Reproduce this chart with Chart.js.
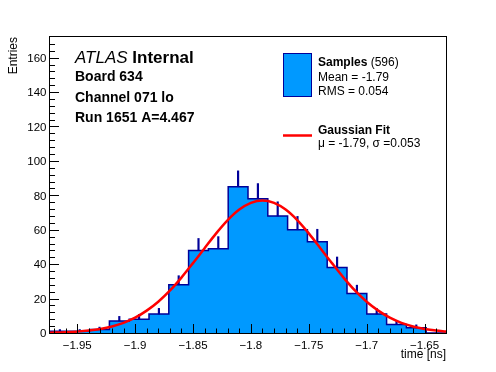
<!DOCTYPE html>
<html>
<head>
<meta charset="utf-8">
<script src="https://cdn.jsdelivr.net/npm/chart.js@4.4.1/dist/chart.umd.min.js"></script>
<style>
  html, body { margin: 0; padding: 0; background: #fff; }
</style>
</head>
<body>
<canvas id="chart-temps" width="496" height="372"></canvas>
<script>
// --- Données ---
const binEdges = [-1.9735, -1.9564, -1.9393, -1.9222, -1.9051, -1.8880, -1.8709, -1.8538, -1.8367, -1.8196,
  -1.8025, -1.7854, -1.7683, -1.7512, -1.7341, -1.7170, -1.6999, -1.6828, -1.6657, -1.6486, -1.6315];
const binCounts = [1, 1, 2, 7, 8, 11, 28, 48, 49, 85, 78, 68, 60, 53, 38, 23, 11, 5, 3, 0];

const fitX = [-1.9735, -1.96, -1.95, -1.94, -1.93, -1.92, -1.91, -1.90, -1.89, -1.88, -1.87, -1.86, -1.85,
  -1.84, -1.83, -1.82, -1.81, -1.80, -1.79, -1.78, -1.77, -1.76, -1.75, -1.74, -1.73, -1.72, -1.71,
  -1.70, -1.69, -1.68, -1.67, -1.66, -1.65, -1.64, -1.6315];
const fitY = [0.2, 0.45, 0.8, 1.4, 2.35, 3.8, 5.9, 8.9, 13.0, 18.2, 24.6, 32.2, 40.6,
  49.3, 57.9, 65.6, 71.7, 75.6, 77.0, 75.6, 71.7, 65.6, 57.9, 49.3, 40.6, 32.2, 24.6,
  18.2, 13.0, 8.9, 5.9, 3.8, 2.35, 1.4, 0.9];

const xTicks = [-1.95, -1.9, -1.85, -1.8, -1.75, -1.7, -1.65];
const yTicks = [0, 20, 40, 60, 80, 100, 120, 140, 160];

const bleu = '#0099ff';
const marine = '#000099';
const police = '"Liberation Sans", Arial, sans-serif';

// contour en escalier : un point par bord de bin
const histPoints = binEdges.map((e, i) => ({x: e, y: binCounts[Math.min(i, binCounts.length - 1)]}));
const errPoints = binCounts.map((v, i) => ({
  x: (binEdges[i] + binEdges[i + 1]) / 2,
  y: [v, v + Math.sqrt(v)]
}));
const fitPoints = fitX.map((x, i) => ({x: x, y: fitY[i]}));

function fmt(v) {
  let s = String(v);
  return s.replace('-', '\u2212');
}

// --- cadre, graduations, textes ---
const cadrePlugin = {
  id: 'cadre',
  afterDraw(chart) {
    const {ctx, chartArea: a, scales: {x, y}} = chart;
    ctx.save();
    ctx.strokeStyle = '#000';
    ctx.lineWidth = 1;
    ctx.strokeRect(a.left - 0.5, a.top - 0.5, a.right - a.left + 1, a.bottom - a.top + 1);

    // graduations Y
    ctx.beginPath();
    for (let v = 4; v < 172; v += 4) {
      const py = Math.round(y.getPixelForValue(v)) + 0.5;
      const len = (v % 20 === 0) ? 9 : 5;
      ctx.moveTo(a.left, py);
      ctx.lineTo(a.left + len, py);
    }
    // graduations X
    for (let k = -197; k <= -164; k++) {
      const px = Math.round(x.getPixelForValue(k / 100)) + 0.5;
      const len = (k % 5 === 0) ? 9 : 4.5;
      ctx.moveTo(px, a.bottom);
      ctx.lineTo(px, a.bottom - len);
    }
    ctx.stroke();

    ctx.fillStyle = '#000';
    ctx.font = '11.5px ' + police;
    ctx.textAlign = 'right';
    ctx.textBaseline = 'alphabetic';
    yTicks.forEach(v => {
      ctx.fillText(String(v), a.left - 3.5, y.getPixelForValue(v) + 4.2);
    });
    ctx.textAlign = 'center';
    xTicks.forEach(v => {
      ctx.fillText(fmt(v), x.getPixelForValue(v), 348.5);
    });

    // titres des axes
    ctx.font = '12px ' + police;
    ctx.textAlign = 'right';
    ctx.fillText('time [ns]', a.right, 358);
    ctx.save();
    ctx.translate(17, a.top);
    ctx.rotate(-Math.PI / 2);
    ctx.fillText('Entries', 0, 0);
    ctx.restore();

    // étiquette ATLAS
    ctx.textAlign = 'left';
    ctx.font = 'italic 17px ' + police;
    ctx.fillText('ATLAS', 75, 62.5);
    const wAtlas = ctx.measureText('ATLAS ').width;
    ctx.font = 'bold 17px ' + police;
    ctx.fillText('Internal', 75 + wAtlas, 62.5);
    ctx.font = 'bold 14px ' + police;
    ctx.fillText('Board 634', 75, 81);
    ctx.fillText('Channel 071 lo', 75, 101.5);
    ctx.fillText('Run 1651 A=4.467', 75, 122);

    // légende
    ctx.fillStyle = bleu;
    ctx.fillRect(283.5, 53.5, 28, 43);
    ctx.strokeStyle = marine;
    ctx.strokeRect(283.5, 53.5, 28, 43);
    ctx.fillStyle = '#000';
    ctx.font = 'bold 12px ' + police;
    ctx.fillText('Samples', 318, 65.5);
    const wSamp = ctx.measureText('Samples').width;
    ctx.font = '12px ' + police;
    ctx.fillText(' (596)', 318 + wSamp, 65.5);
    ctx.fillText('Mean = -1.79', 318, 80.5);
    ctx.fillText('RMS = 0.054', 318, 94.5);

    ctx.strokeStyle = '#ff0000';
    ctx.lineWidth = 2.5;
    ctx.beginPath();
    ctx.moveTo(283, 135.5);
    ctx.lineTo(312, 135.5);
    ctx.stroke();
    ctx.font = 'bold 12px ' + police;
    ctx.fillText('Gaussian Fit', 318, 134);
    ctx.font = '12px ' + police;
    ctx.fillText('\u03bc = -1.79, \u03c3 =0.053', 318, 146.5);
    ctx.restore();
  }
};

const ctx = document.getElementById('chart-temps').getContext('2d');
new Chart(ctx, {
  type: 'line',
  data: {
    datasets: [
      {
        type: 'line',
        label: 'Gaussian Fit',
        data: fitPoints,
        borderColor: '#ff0000',
        borderWidth: 2.5,
        pointRadius: 0,
        cubicInterpolationMode: 'monotone',
        fill: false,
        order: 1
      },
      {
        type: 'bar',
        label: 'errors',
        data: errPoints,
        backgroundColor: marine,
        borderWidth: 0,
        barThickness: 1.5,
        order: 2
      },
      {
        type: 'line',
        label: 'Samples',
        data: histPoints,
        stepped: 'before',
        borderColor: marine,
        borderWidth: 1.5,
        backgroundColor: bleu,
        fill: 'origin',
        pointRadius: 0,
        order: 3
      }
    ]
  },
  options: {
    responsive: false,
    animation: false,
    layout: { padding: { left: 50, right: 50, top: 37, bottom: 39 } },
    plugins: { legend: { display: false }, tooltip: { enabled: false } },
    scales: {
      x: { type: 'linear', min: -1.9735, max: -1.6315, offset: false, display: false },
      y: { type: 'linear', min: 0, max: 172, display: false }
    }
  },
  plugins: [cadrePlugin]
});
</script>
</body>
</html>
